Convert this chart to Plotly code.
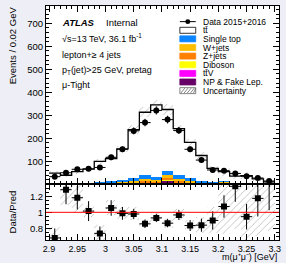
import numpy as np
import plotly.graph_objects as go
from plotly.subplots import make_subplots

# ---------------- data ----------------
bin_centers = [2.91, 2.93, 2.95, 2.97, 2.99, 3.01, 3.03, 3.05, 3.07, 3.09,
               3.11, 3.13, 3.15, 3.17, 3.19, 3.21, 3.23, 3.25, 3.27, 3.29]
bin_edges = [2.90, 2.92, 2.94, 2.96, 2.98, 3.00, 3.02, 3.04, 3.06, 3.08, 3.10,
             3.12, 3.14, 3.16, 3.18, 3.20, 3.22, 3.24, 3.26, 3.28, 3.30]

data_counts = [33, 50, 65, 67, 73, 117, 152, 232, 268, 321,
               281, 234, 152, 105, 62, 59, 47, 35, 27, 14]

ttbar = [41.5, 34, 49, 59, 91, 99, 134, 212, 271, 313,
         268, 203, 157, 110, 61, 43, 30.5, 33, 19, 7]
single_top = [2, 1.5, 1.5, 2, 2.6, 4, 8, 10, 18.4, 13.5,
              18, 16.4, 10, 5.5, 2.5, 1.5, 1.6, 1.2, 1.2, 0.8]
w_jets = [1.8, 1.5, 1.5, 1.8, 2, 3, 5, 6.2, 11, 8,
          14, 10, 6.3, 4.2, 2.2, 4.4, 1.6, 1.2, 1.2, 0.7]
z_jets = [0.8, 0.6, 0.6, 0.7, 0.8, 1.3, 2, 2.5, 4, 3,
          6, 4, 2.5, 1.5, 0.8, 1.5, 0.5, 0.4, 0.4, 0.3]
diboson = [0.2, 0.2, 0.2, 0.2, 0.3, 0.3, 0.4, 0.5, 0.6, 0.5,
           0.8, 0.6, 0.4, 0.3, 0.2, 0.3, 0.1, 0.1, 0.1, 0.1]
ttv = [0.2, 0.2, 0.2, 0.3, 0.3, 0.4, 0.6, 0.8, 1, 1,
       1.2, 1, 0.8, 0.5, 0.3, 0.3, 0.2, 0.1, 0.1, 0.1]
np_fake = [2, 1, 2, 2, 2, 3, 4, 5, 7, 6,
           17, 7, 5, 3, 2, 4, 1, 1, 1, 1]
rel_unc = [0.2, 0.15, 0.16, 0.07, 0.13, 0.09, 0.08, 0.08, 0.07, 0.06,
           0.07, 0.07, 0.08, 0.12, 0.18, 0.32, 0.4, 0.4, 0.4, 0.45]

x_ticks = [2.9, 2.95, 3.0, 3.05, 3.1, 3.15, 3.2, 3.25, 3.3]
x_ticktext = ["2.9", "2.95", "3", "3.05", "3.1", "3.15", "3.2", "3.25", "3.3"]
y_ticks = [100, 200, 300, 400, 500, 600, 700]
r_ticks = [0.8, 1.0, 1.2]
r_ticktext = ["0.8", "1", "1.2"]

components = [  # bottom -> top
    ("NP & Fake Lep.", np_fake, "#660066"),
    ("tt\u0304V", ttv, "#ff00ff"),
    ("Diboson", diboson, "#ffff00"),
    ("Z+jets", z_jets, "#ff7f00"),
    ("W+jets", w_jets, "#ffbf00"),
    ("Single top", single_top, "#0a84ff"),
    ("tt\u0304", ttbar, "#ffffff"),
]

# ---------------- derived ----------------
data_arr = np.array(data_counts, float)
mc_total = np.sum([np.array(c[1], float) for c in components], axis=0)
unc = mc_total * np.array(rel_unc)
ratio = data_arr / mc_total
ratio_err = np.sqrt(data_arr) / mc_total
half_w = 0.01
bw = 0.02

W, H = 286, 263
L, R, T, B = 46, 5, 5, 23
PW, PH = W - L - R, H - T - B
FONT = "Liberation Sans, Arial, Helvetica, sans-serif"

fig = make_subplots(rows=2, cols=1, shared_xaxes=True, vertical_spacing=0,
                    row_heights=[179 / 235, 56 / 235])

for name, vals, col in components:
    fig.add_trace(go.Bar(x=bin_centers, y=vals, width=bw, name=name,
                         marker=dict(color=col, line=dict(width=0)),
                         showlegend=False), row=1, col=1)

# uncertainty band main
fig.add_trace(go.Bar(x=bin_centers, y=2 * unc, base=mc_total - unc, width=bw,
                     marker=dict(color="rgba(0,0,0,0)", line=dict(width=0),
                                 pattern=dict(shape="/", fgcolor="#6a6a6a", size=5,
                                              solidity=0.15, fillmode="overlay")),
                     showlegend=False), row=1, col=1)

# step outline of total
fig.add_trace(go.Scatter(x=bin_edges, y=list(mc_total) + [mc_total[-1]],
                         mode="lines", line=dict(color="black", width=1.3, shape="hv"),
                         showlegend=False), row=1, col=1)

# data
fig.add_trace(go.Scatter(x=bin_centers, y=data_counts, mode="markers",
                         marker=dict(symbol="circle", size=6, color="black"),
                         error_y=dict(type="data", array=np.sqrt(data_arr), thickness=1,
                                      width=0, color="black"),
                         error_x=dict(type="constant", value=half_w, thickness=1,
                                      width=0, color="black"),
                         showlegend=False), row=1, col=1)

# ratio band
fig.add_trace(go.Bar(x=bin_centers, y=2 * ratio * np.array(rel_unc),
                     base=ratio * (1 - np.array(rel_unc)), width=bw,
                     marker=dict(color="rgba(0,0,0,0)", line=dict(width=0),
                                 pattern=dict(shape="/", fgcolor="#6a6a6a", size=5,
                                              solidity=0.15, fillmode="overlay")),
                     showlegend=False), row=2, col=1)
fig.add_hline(y=1, line=dict(color="red", width=1), row=2, col=1)
fig.add_trace(go.Scatter(x=bin_centers, y=ratio, mode="markers",
                         marker=dict(symbol="square", size=6, color="black"),
                         error_y=dict(type="data", array=ratio_err, thickness=1,
                                      width=0, color="black"),
                         error_x=dict(type="constant", value=half_w, thickness=1,
                                      width=0, color="black"),
                         showlegend=False), row=2, col=1)

axis_common = dict(ticks="inside", ticklen=6, tickwidth=1, tickcolor="black",
                   showline=True, linecolor="black", linewidth=1, mirror="allticks",
                   showgrid=False, zeroline=False,
                   tickfont=dict(family=FONT, size=9.5, color="black"))
xr = [2.8945, 3.3075]
fig.update_xaxes(**axis_common, range=xr, tickvals=x_ticks, ticktext=x_ticktext,
                 minor=dict(ticks="inside", ticklen=3, dtick=0.01, tick0=2.9,
                            tickcolor="black", showgrid=False))
fig.update_xaxes(showticklabels=False, row=1, col=1)
fig.update_xaxes(tickfont=dict(family=FONT, size=9, color="black"), row=2, col=1)
fig.update_yaxes(**axis_common, range=[0, 775], tickvals=y_ticks,
                 minor=dict(ticks="inside", ticklen=3, dtick=20, tick0=0,
                            tickcolor="black", showgrid=False), row=1, col=1)
fig.update_yaxes(**axis_common, range=[0.655, 1.35], tickvals=r_ticks,
                 ticktext=r_ticktext,
                 minor=dict(ticks="inside", ticklen=3, dtick=0.05, tick0=0,
                            tickcolor="black", showgrid=False), row=2, col=1)


def px(X):
    return (X - L) / PW


def py(Y):
    return (H - B - Y) / PH


ann = []


def text(X, Y, s, size=9, xanchor="left", yanchor="middle", angle=0):
    ann.append(dict(x=px(X), y=py(Y), xref="paper", yref="paper", text=s,
                    showarrow=False, xanchor=xanchor, yanchor=yanchor,
                    textangle=angle, font=dict(family=FONT, size=size, color="black")))


text(60, 22, "<b><i>ATLAS</i></b>", 9.5)
text(104, 22, "Internal", 9.5)
text(60, 37, "\u221as=13 TeV, 36.1 fb<sup>-1</sup>", 9)
text(60, 54, "lepton+\u2265 4 jets", 9)
text(60, 70, "p<sub>T</sub>(jet)>25 GeV, pretag", 9)
text(60, 84, "\u03bc-Tight", 9)
text(12, 3, "Events / 0.02 GeV", 9.5, xanchor="center", yanchor="top", angle=-90)
text(12, 212, "Data/Pred", 9.5, xanchor="center", yanchor="middle", angle=-90)
text(281, 264, "m(\u03bc\u207a\u03bc\u207b) [GeV]", 9, xanchor="right",
     yanchor="bottom")

# legend
shapes = []
leg_rows = [20.7, 29.4, 38.0, 46.7, 55.3, 64.0, 72.7, 81.3, 90.0]
leg_items = [("Data 2015+2016", "data", None), ("tt\u0304", "box", "#ffffff"),
             ("Single top", "box", "#0a84ff"), ("W+jets", "box", "#ffbf00"),
             ("Z+jets", "box", "#ff7f00"), ("Diboson", "box", "#ffff00"),
             ("tt\u0304V", "box", "#ff00ff"), ("NP & Fake Lep.", "box", "#660066"),
             ("Uncertainty", "hatch", None)]
bx0, bx1 = 181, 197
for (lab, kind, col), Y in zip(leg_items, leg_rows):
    if kind == "data":
        shapes.append(dict(type="line", xref="paper", yref="paper", x0=px(bx0), x1=px(bx1),
                           y0=py(Y), y1=py(Y), line=dict(color="black", width=1)))
        shapes.append(dict(type="circle", xref="paper", yref="paper", x0=px(186.5), x1=px(191.5),
                           y0=py(Y - 2.5), y1=py(Y + 2.5), fillcolor="black",
                           line=dict(color="black", width=0)))
    elif kind == "box":
        lc = "black" if col == "#ffffff" else col
        shapes.append(dict(type="rect", xref="paper", yref="paper", x0=px(bx0), x1=px(bx1),
                           y0=py(Y - 3), y1=py(Y + 3), fillcolor=col,
                           line=dict(color=lc, width=0.8)))
    else:
        shapes.append(dict(type="rect", xref="paper", yref="paper", x0=px(bx0), x1=px(bx1),
                           y0=py(Y - 3), y1=py(Y + 3), fillcolor="white",
                           line=dict(color="#666", width=0.8)))
        for k in range(5):
            xa = bx0 + 1 + 3.2 * k
            shapes.append(dict(type="line", xref="paper", yref="paper",
                               x0=px(xa), x1=px(min(xa + 4, bx1)),
                               y0=py(Y + 2.5), y1=py(Y - 2.5),
                               line=dict(color="#666", width=0.8)))
    text(202, Y, lab, 8.5)

fig.update_layout(width=W, height=H, margin=dict(l=L, r=R, t=T, b=B),
                  paper_bgcolor="#eeeff6", plot_bgcolor="white",
                  barmode="stack", bargap=0, showlegend=False,
                  annotations=ann, shapes=list(fig.layout.shapes) + shapes)

fig.write_html("out.html", config={"displayModeBar": False},
               post_script="document.body.style.margin='0px';"
                           "document.body.style.padding='0px';"
                           "document.body.style.overflow='hidden';")
